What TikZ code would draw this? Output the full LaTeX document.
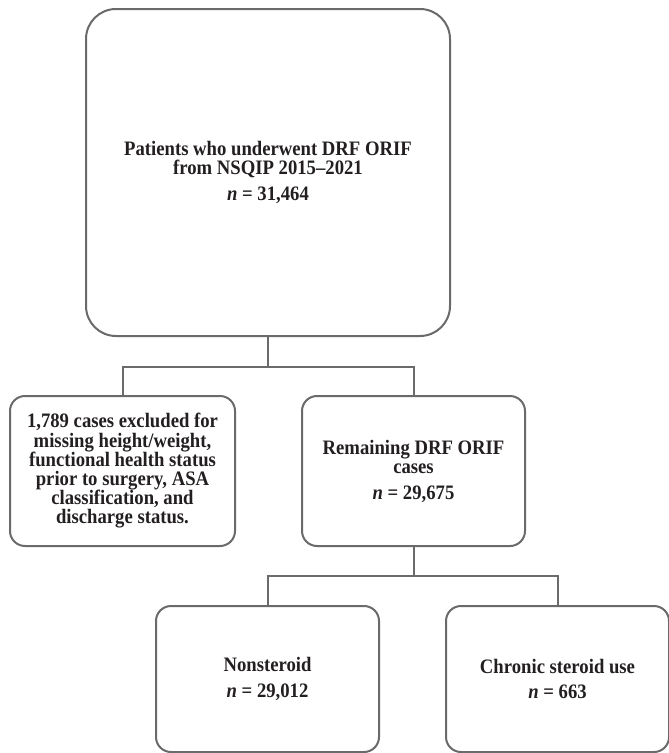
\documentclass[tikz,border=0pt]{standalone}
\usepackage{fontspec}
\setmainfont{Liberation Serif}[FakeStretch=0.91]
\definecolor{linegray}{HTML}{6A6A6A}
\definecolor{txt}{HTML}{231F20}
\tikzset{
  x=0.75pt, y=-0.75pt,
  flowbox/.style={draw=linegray, line width=1.5pt, rounded corners=11.25pt,
    align=center, text=txt, inner sep=0pt,
    font=\bfseries\fontsize{15.4}{14.4}\selectfont},
  conn/.style={draw=linegray, line width=1.5pt}
}
\begin{document}
\begin{tikzpicture}
\useasboundingbox (0,0) rectangle (668,753);
\node[flowbox, rounded corners=22.5pt, minimum width=273pt, minimum height=245.25pt] (top) at (268,172.5)
  {Patients who underwent DRF ORIF\\from NSQIP 2015–2021\\[5pt]\textit{n} = 31,464};
\node[flowbox, minimum width=168.75pt, minimum height=112.5pt] (excl) at (122.5,471)
  {1,789 cases excluded for\\missing height/weight,\\functional health status\\prior to surgery, ASA\\classification, and\\discharge status.};
\node[flowbox, minimum width=167.25pt, minimum height=112.5pt] (rem) at (413.5,471)
  {Remaining DRF ORIF\\cases\\[5pt]\textit{n} = 29,675};
\node[flowbox, minimum width=167.25pt, minimum height=109.5pt] (non) at (267.5,679)
  {Nonsteroid\\[5pt]\textit{n} = 29,012};
\node[flowbox, minimum width=167.25pt, minimum height=109.5pt] (chr) at (557.5,679)
  {Chronic steroid use\\[5pt]\textit{n} = 663};
\coordinate (j1) at (268,367);
\coordinate (j2) at (413.5,576);
\draw[conn] (top.south) -- (j1);
\draw[conn] (excl.north) |- (j1) -| (rem.north);
\draw[conn] (rem.south) -- (j2);
\draw[conn] (non.north) |- (j2) -| (chr.north);
\end{tikzpicture}
\end{document}
